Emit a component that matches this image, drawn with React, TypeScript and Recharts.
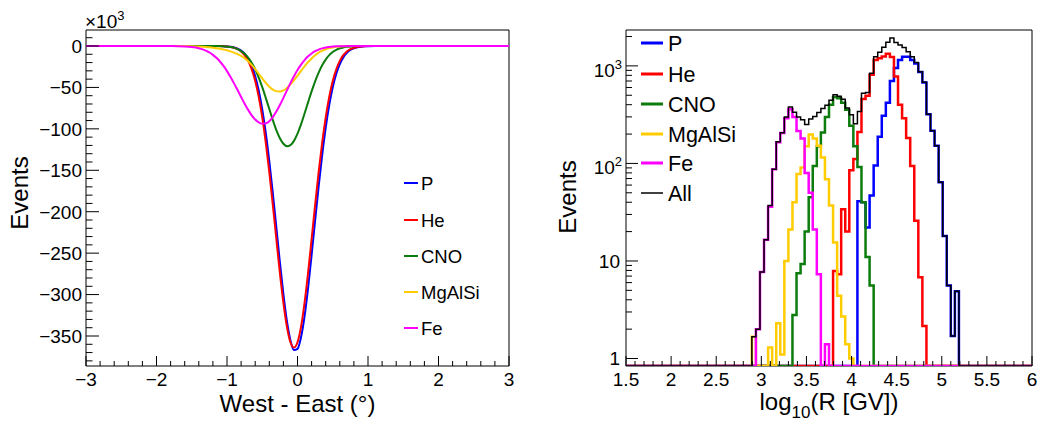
import React from 'react';
import { LineChart, Line, XAxis, YAxis, Legend, ReferenceArea, Label } from 'recharts';

const FONT = '"Liberation Sans", Arial, Helvetica, sans-serif';

// ---------------- Left panel: West - East deficit (x10^3 events) ----------------
const westEastX = [
  -3, -2.5, -2.2, -2.1, -2, -1.9, -1.8, -1.7, -1.6, -1.5, -1.4, -1.3, -1.25,
  -1.2, -1.15, -1.1, -1.05, -1, -0.95, -0.9, -0.85, -0.8, -0.75, -0.7, -0.65, -0.6, -0.55, -0.5, -0.45, -0.4, -0.35, -0.3, -0.25, -0.2, -0.15, -0.1, -0.05,
  0, 0.05, 0.1, 0.15, 0.2, 0.25, 0.3, 0.35, 0.4, 0.45, 0.5, 0.55, 0.6, 0.65, 0.7, 0.75, 0.8, 0.85, 0.9, 0.95, 1,
  1.1, 1.2, 1.5, 2, 2.5, 3,
];
const deficitP = [
  0, 0, 0, 0, 0, 0, 0, 0, 0, 0, 0, 0, 0,
  0, 0, -0.1, -0.2, -0.5, -0.9, -1.7, -3.1, -5.4, -9.2, -15.1, -23.8, -36.4, -53.7, -76.4, -104.8, -138.9, -177.5, -219, -260.7, -299.5, -332.2, -355.4, -367,
  -365.6, -351.6, -326.3, -292.2, -252.5, -210.6, -169.5, -131.6, -98.7, -71.4, -49.8, -33.6, -21.8, -13.7, -8.3, -4.8, -2.7, -1.5, -0.8, -0.4, -0.2,
  0, 0, 0, 0, 0, 0,
];
const deficitHe = [
  0, 0, 0, 0, 0, 0, 0, 0, 0, 0, 0, 0, 0,
  0, -0.1, -0.1, -0.3, -0.6, -1.1, -2.1, -3.8, -6.6, -11.1, -18, -28.1, -42.2, -61.4, -86.1, -116.5, -152.2, -191.8, -233.2, -273.8, -310, -339, -357.6, -364,
  -357.6, -339, -310, -273.8, -233.2, -191.8, -152.2, -116.5, -86.1, -61.4, -42.2, -28.1, -18, -11.1, -6.6, -3.8, -2.1, -1.1, -0.6, -0.3, -0.1,
  0, 0, 0, 0, 0, 0,
];
const deficitCNO = [
  0, 0, 0, 0, 0, 0, 0, 0, 0, 0, 0, 0, 0,
  0, -0.1, -0.2, -0.4, -0.8, -1.3, -2.3, -3.8, -6.1, -9.4, -14.1, -20.3, -28.3, -38.2, -49.7, -62.6, -76.1, -89.4, -101.5, -111.4, -118, -121, -119.7, -114.5,
  -105.8, -94.5, -81.5, -68, -54.8, -42.6, -32.1, -23.3, -16.4, -11.1, -7.3, -4.6, -2.8, -1.7, -1, -0.5, -0.3, -0.1, 0, 0, 0,
  0, 0, 0, 0, 0, 0,
];
const deficitMgAlSi = [
  0, 0, 0, 0, 0, 0, 0, 0, -0.1, -0.3, -0.6, -1.1, -1.5,
  -2, -2.6, -3.3, -4.2, -5.2, -6.5, -8, -9.8, -12, -14.8, -18.3, -22.8, -28, -33.5, -39, -44.5, -49.2, -52.6, -54.5, -55, -53.6, -50.6, -46.4, -41.4,
  -35.8, -30.1, -24.6, -19.5, -15, -11.2, -8.1, -5.7, -3.9, -2.6, -1.7, -1, -0.6, -0.4, -0.2, -0.1, 0, 0, 0, 0, 0,
  0, 0, 0, 0, 0, 0,
];
const deficitFe = [
  0, 0, 0, 0, 0, -0.05, -0.1, -0.2, -0.5, -1.2, -2.7, -5.6, -7.8,
  -10.7, -14.3, -18.7, -24.1, -30.3, -37.4, -45.1, -53.2, -61.5, -69.6, -77.1, -83.7, -88.8, -92.3, -93.9, -93.4, -90.7, -85.8, -79.2, -71.3, -62.6, -53.6, -44.8, -36.5,
  -29, -22.5, -17, -12.5, -9, -6.3, -4.3, -2.9, -1.9, -1.2, -0.7, -0.4, -0.3, -0.2, -0.1, 0, 0, 0, 0, 0, 0,
  0, 0, 0, 0, 0, 0,
];

// ---------------- Right panel: log10(R [GV]) histograms ----------------
const rigidityMin = 1.5;
const rigidityMax = 6;
const rigidityBinWidth = 0.045;
const rigidityBinCount = 100;
const firstListedBin = 30; // counts below start at bin 30 (log10 R = 2.85)
const countsP = [
  0, 0, 0, 0, 0, 0, 0, 0, 0, 0,
  0, 0, 0, 0, 0, 0, 0, 0, 0, 0,
  0, 0, 0, 0, 0, 0, 0,
  41, 40, 22, 47, 95, 188, 308, 420, 700, 950,
  1150, 1240, 1240, 1150, 1060, 864, 676, 320, 216, 152,
  64, 18, 5.6, 1.7, 4.9,
  0, 0,
];
const countsHe = [
  0, 0, 0, 0, 0, 0, 0, 0, 0, 0,
  0, 0, 0, 0, 0, 0, 0, 0, 0, 0,
  0,
  7.9, 7.3, 34, 20, 85, 111, 210, 457, 494,
  810, 1150, 1200, 1250, 1330, 1230, 780, 400, 290, 182,
  94, 25.8, 6.8, 2.16,
  0, 0, 0, 0, 0, 0, 0, 0, 0, 0,
];
const countsCNO = [
  0, 0, 0, 0, 0, 0, 0, 0, 0, 0,
  0,
  2.8, 7.5, 9.3, 20, 45, 94, 150, 208, 300,
  400, 480, 465, 420, 355, 243, 150, 92, 40, 11,
  5.6,
  0, 0, 0, 0, 0, 0, 0, 0, 0, 0,
  0, 0, 0, 0, 0, 0, 0, 0, 0, 0, 0, 0, 0,
];
const countsMgAlSi = [
  0, 1.67, 0, 0, 0, 1.3, 0, 2.3, 1.1, 10,
  21, 40, 78, 91, 150, 198, 180, 152, 115, 69,
  37, 15.5, 4.4, 2.7, 1.4, 1,
  0, 0, 0, 0, 0, 0, 0, 0, 0, 0,
  0, 0, 0, 0, 0, 0, 0, 0, 0, 0,
  0, 0, 0, 0, 0, 0, 0, 0,
];
const countsFe = [
  0, 0, 2, 7.7, 16.5, 36, 87, 165, 205, 290,
  360, 300, 215, 180, 80, 50, 21, 7.3, 0, 1.4,
  0, 0, 0, 0, 0, 0, 0, 0, 0, 0,
  0, 0, 0, 0, 0, 0, 0, 0, 0, 0,
  0, 0, 0, 0, 0, 0, 0, 0, 0, 0,
  0, 0, 0, 0,
];
const countsAll = [
  0, 1.67, 2, 7.7, 16.5, 37, 87, 167, 206, 300,
  380, 335, 300, 280, 250, 285, 303, 333, 366, 396,
  445, 505, 487, 455, 370, 315, 255, 340, 525, 535,
  840, 1240, 1380, 1550, 1750, 1930, 1740, 1640, 1548, 1400,
  1240, 1086, 871, 678, 320, 216, 152, 64, 18, 5.6,
  1.7, 4.9, 0, 0,
];

const LOG_MIN = 0.838;
const LOG_MAX = 2333;

const COLORS = {
  P: '#0000ff',
  He: '#ff0000',
  CNO: '#0c7c0c',
  MgAlSi: '#ffcc00',
  Fe: '#ff00ff',
  All: '#000000',
};

const leftSeries = [
  { key: 'P', values: deficitP },
  { key: 'He', values: deficitHe },
  { key: 'CNO', values: deficitCNO },
  { key: 'MgAlSi', values: deficitMgAlSi },
  { key: 'Fe', values: deficitFe },
];

const rightSeries = [
  { key: 'P', counts: countsP },
  { key: 'He', counts: countsHe },
  { key: 'CNO', counts: countsCNO },
  { key: 'MgAlSi', counts: countsMgAlSi },
  { key: 'Fe', counts: countsFe },
  { key: 'All', counts: countsAll },
];

const westEastTable = westEastX.map((x, i) => {
  const row: Record<string, number> = { x };
  leftSeries.forEach((s) => {
    row[s.key] = s.values[i];
  });
  return row;
});

// zero-count bins are drawn on the bottom edge of the log frame (as ROOT does)
const rigidityTable = Array.from({ length: rigidityBinCount + 1 }, (_, k) => {
  const row: Record<string, number> = { x: Number((rigidityMin + k * rigidityBinWidth).toFixed(3)) };
  rightSeries.forEach((s) => {
    const i = k - firstListedBin;
    const c = k < rigidityBinCount && i >= 0 && i < s.counts.length ? s.counts[i] : 0;
    row[s.key] = c > 0 ? c : LOG_MIN;
  });
  return row;
});

const leftXTicks = Array.from({ length: 31 }, (_, i) => Math.round((-3 + i * 0.2) * 10) / 10);
const leftYTicks = Array.from({ length: 40 }, (_, i) => -380 + i * 10);
const rightXTicks = Array.from({ length: 46 }, (_, i) => Math.round((1.5 + i * 0.1) * 10) / 10);
const rightYTicks = [
  1, 2, 3, 4, 5, 6, 7, 8, 9,
  10, 20, 30, 40, 50, 60, 70, 80, 90,
  100, 200, 300, 400, 500, 600, 700, 800, 900,
  1000, 2000,
];

const minus = (v: number) => (v < 0 ? `\u2212${Math.abs(v)}` : String(v));

const LeftYTick = ({ x, y, payload }: any) => {
  const v = payload.value as number;
  const major = Math.abs(v % 50) < 1e-9;
  return (
    <g>
      <line x1={x} x2={x + (major ? 13 : 6.5)} y1={y} y2={y} stroke="#000" strokeWidth={1} />
      {major && (
        <text x={x - 4} y={y} dy="0.36em" textAnchor="end" fontSize={19} fontFamily={FONT} fill="#000">
          {minus(v)}
        </text>
      )}
    </g>
  );
};

const LeftXTick = ({ x, y, payload }: any) => {
  const v = payload.value as number;
  const major = Math.abs(v - Math.round(v)) < 1e-6;
  return (
    <g>
      <line x1={x} x2={x} y1={y} y2={y - (major ? 10 : 5)} stroke="#000" strokeWidth={1} />
      {major && (
        <text x={x} y={y + 20} textAnchor="middle" fontSize={19} fontFamily={FONT} fill="#000">
          {minus(Math.round(v))}
        </text>
      )}
    </g>
  );
};

const RightXTick = ({ x, y, payload }: any) => {
  const v = payload.value as number;
  const major = Math.abs(v * 2 - Math.round(v * 2)) < 1e-6;
  return (
    <g>
      <line x1={x} x2={x} y1={y} y2={y - (major ? 10 : 5)} stroke="#000" strokeWidth={1} />
      {major && (
        <text x={x} y={y + 20} textAnchor="middle" fontSize={19} fontFamily={FONT} fill="#000">
          {String(v)}
        </text>
      )}
    </g>
  );
};

const RightYTick = ({ x, y, payload }: any) => {
  const v = payload.value as number;
  const lg = Math.log10(v);
  const exp = Math.round(lg);
  const major = Math.abs(lg - exp) < 1e-9;
  let label: React.ReactNode = null;
  if (major) {
    if (exp === 0) {
      label = (
        <text x={x - 6} y={y} dy="0.36em" textAnchor="end" fontSize={19} fontFamily={FONT} fill="#000">1</text>
      );
    } else if (exp === 1) {
      label = (
        <text x={x - 6} y={y} dy="0.36em" textAnchor="end" fontSize={19} fontFamily={FONT} fill="#000">10</text>
      );
    } else {
      label = (
        <text x={x - 4} y={y + 11} textAnchor="end" fontSize={19} fontFamily={FONT} fill="#000">
          10<tspan dy={-8} fontSize={13}>{exp}</tspan>
        </text>
      );
    }
  }
  return (
    <g>
      <line x1={x} x2={x + (major ? 12 : 6)} y1={y} y2={y} stroke="#000" strokeWidth={1} />
      {label}
    </g>
  );
};

const LeftYTitle = ({ viewBox }: any) => {
  const { x, y, width, height } = viewBox;
  return (
    <g>
      <text
        transform={`translate(${x + 28}, ${y + height / 2 - 5}) rotate(-90)`}
        textAnchor="middle"
        fontSize={24}
        fontFamily={FONT}
        fill="#000"
      >
        Events
      </text>
      <text x={x + width - 1} y={y - 2} fontSize={19} fontFamily={FONT} fill="#000">
        ×10<tspan dy={-8} fontSize={13}>3</tspan>
      </text>
    </g>
  );
};

const RightYTitle = ({ viewBox }: any) => {
  const { x, y, height } = viewBox;
  return (
    <text
      transform={`translate(${x + 56}, ${y + height / 2 - 1}) rotate(-90)`}
      textAnchor="middle"
      fontSize={24}
      fontFamily={FONT}
      fill="#000"
    >
      Events
    </text>
  );
};

const LeftXTitle = ({ viewBox }: any) => {
  const { x, y, width } = viewBox;
  return (
    <text x={x + width / 2} y={y + 46} textAnchor="middle" fontSize={24} fontFamily={FONT} fill="#000">
      West - East (°)
    </text>
  );
};

const RightXTitle = ({ viewBox }: any) => {
  const { x, y, width } = viewBox;
  return (
    <text x={x + width / 2} y={y + 44} textAnchor="middle" fontSize={24} fontFamily={FONT} fill="#000">
      log<tspan dy={8} fontSize={17}>10</tspan>
      <tspan dy={-8}>(R [GV])</tspan>
    </text>
  );
};

const leftLegendY = [183, 220, 256, 292, 328];
const rightLegendY = [43, 74, 104, 134, 163, 193];

const LeftLegendContent = () => (
  <svg width={520} height={422} style={{ position: 'absolute', left: 0, top: 0, overflow: 'visible' }}>
    {leftSeries.map((s, i) => (
      <g key={s.key}>
        <line x1={404} x2={418} y1={leftLegendY[i]} y2={leftLegendY[i]} stroke={(COLORS as any)[s.key]} strokeWidth={2} />
        <text x={421} y={leftLegendY[i]} dy="0.36em" fontSize={18.5} fontFamily={FONT} fill="#000">
          {s.key}
        </text>
      </g>
    ))}
  </svg>
);

const RightLegendContent = () => (
  <svg width={519} height={422} style={{ position: 'absolute', left: 0, top: 0, overflow: 'visible' }}>
    {rightSeries.map((s, i) => (
      <g key={s.key}>
        <line
          x1={121}
          x2={143}
          y1={rightLegendY[i]}
          y2={rightLegendY[i]}
          stroke={(COLORS as any)[s.key]}
          strokeWidth={s.key === 'All' ? 1.5 : 3}
        />
        <text x={148} y={rightLegendY[i]} dy="0.36em" fontSize={21.5} fontFamily={FONT} fill="#000">
          {s.key}
        </text>
      </g>
    ))}
  </svg>
);

export default function App() {
  return (
    <div
      style={{
        position: 'absolute',
        left: 0,
        top: 0,
        width: 1039,
        height: 422,
        background: '#fff',
        fontFamily: FONT,
        overflow: 'hidden',
      }}
    >
      <div style={{ position: 'absolute', left: 0, top: 0 }}>
        <LineChart width={520} height={422} data={westEastTable} margin={{ top: 30, right: 11, bottom: 0, left: 0 }}>
          <XAxis
            dataKey="x"
            type="number"
            domain={[-3, 3]}
            ticks={leftXTicks}
            interval={0}
            allowDataOverflow
            height={56}
            tickLine={false}
            axisLine={false}
            tickSize={0}
            tickMargin={0}
            tick={(p: any) => <LeftXTick {...p} />}
          >
            <Label content={(p: any) => <LeftXTitle viewBox={p.viewBox} />} />
          </XAxis>
          <YAxis
            type="number"
            domain={[-386.2, 19.3]}
            ticks={leftYTicks}
            interval={0}
            allowDataOverflow
            width={86}
            tickLine={false}
            axisLine={false}
            tickSize={0}
            tickMargin={0}
            tick={(p: any) => <LeftYTick {...p} />}
          >
            <Label content={(p: any) => <LeftYTitle viewBox={p.viewBox} />} />
          </YAxis>
          <ReferenceArea x1={-3} x2={3} y1={-386.2} y2={19.3} fill="none" stroke="#000" strokeWidth={1} />
          {leftSeries.map((s) => (
            <Line
              key={s.key}
              dataKey={s.key}
              name={s.key}
              type="monotone"
              stroke={(COLORS as any)[s.key]}
              strokeWidth={2}
              dot={false}
              activeDot={false}
              isAnimationActive={false}
            />
          ))}
          <Legend
            layout="vertical"
            align="center"
            verticalAlign="middle"
            wrapperStyle={{ position: 'absolute', left: 0, top: 0, width: 520, height: 422, pointerEvents: 'none' }}
            content={() => <LeftLegendContent />}
          />
        </LineChart>
      </div>
      <div style={{ position: 'absolute', left: 520, top: 0 }}>
        <LineChart width={519} height={422} data={rigidityTable} margin={{ top: 30, right: 7, bottom: 0, left: 0 }}>
          <XAxis
            dataKey="x"
            type="number"
            domain={[rigidityMin, rigidityMax]}
            ticks={rightXTicks}
            interval={0}
            allowDataOverflow
            height={56}
            tickLine={false}
            axisLine={false}
            tickSize={0}
            tickMargin={0}
            tick={(p: any) => <RightXTick {...p} />}
          >
            <Label content={(p: any) => <RightXTitle viewBox={p.viewBox} />} />
          </XAxis>
          <YAxis
            type="number"
            scale="log"
            domain={[LOG_MIN, LOG_MAX]}
            ticks={rightYTicks}
            interval={0}
            allowDataOverflow
            width={106}
            tickLine={false}
            axisLine={false}
            tickSize={0}
            tickMargin={0}
            tick={(p: any) => <RightYTick {...p} />}
          >
            <Label content={(p: any) => <RightYTitle viewBox={p.viewBox} />} />
          </YAxis>
          <ReferenceArea x1={rigidityMin} x2={rigidityMax} y1={LOG_MIN} y2={LOG_MAX} fill="none" stroke="#000" strokeWidth={1} />
          {rightSeries.map((s) => (
            <Line
              key={s.key}
              dataKey={s.key}
              name={s.key}
              type="stepAfter"
              stroke={(COLORS as any)[s.key]}
              strokeWidth={s.key === 'All' ? 1.5 : 2.5}
              dot={false}
              activeDot={false}
              isAnimationActive={false}
            />
          ))}
          <Legend
            layout="vertical"
            align="center"
            verticalAlign="middle"
            wrapperStyle={{ position: 'absolute', left: 0, top: 0, width: 519, height: 422, pointerEvents: 'none' }}
            content={() => <RightLegendContent />}
          />
        </LineChart>
      </div>
    </div>
  );
}
